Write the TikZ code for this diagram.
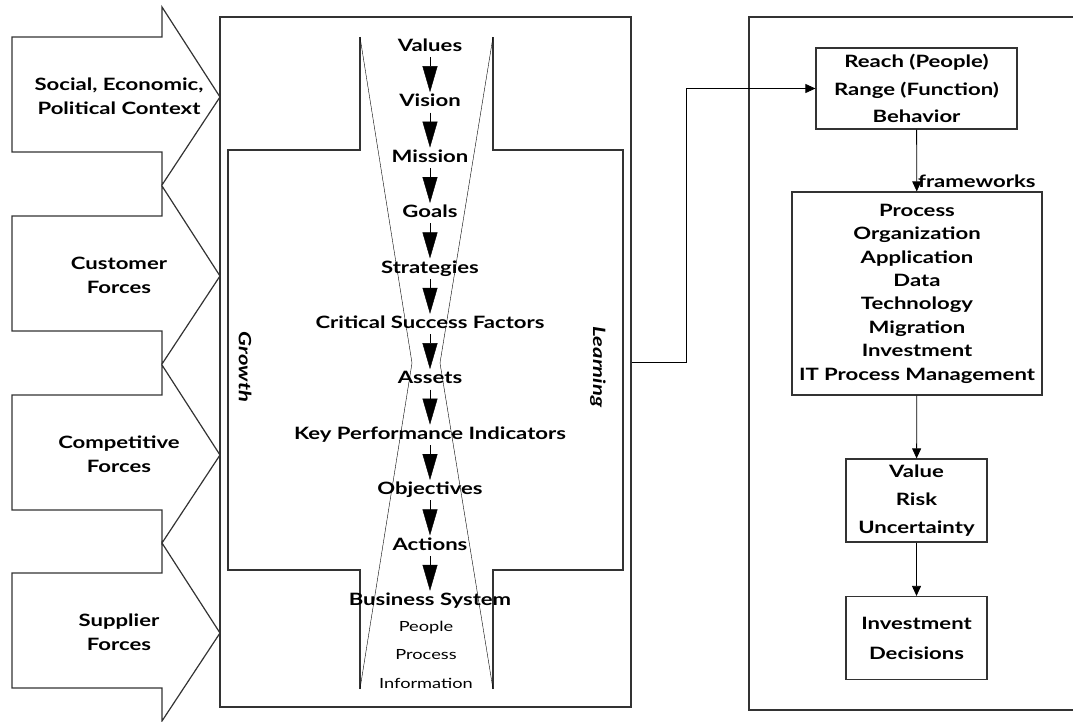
\documentclass[tikz,border=0pt]{standalone}
\usepackage{fontspec}
\setmainfont[FakeStretch=1.3]{Lato}
\usetikzlibrary{arrows.meta}

\begin{document}
\begin{tikzpicture}[x=1pt,y=-1pt,
    frame/.style={line width=1.2pt,draw=black!80},
    force/.style={font=\fontsize{17}{24}\selectfont\bfseries,align=center},
    stage/.style={font=\fontsize{17}{18}\selectfont\bfseries,text height=12pt,text depth=3pt,inner sep=2.5pt},
    part/.style={font=\fontsize{14}{18}\selectfont,inner sep=1pt},
    bigarrow/.style={-{Triangle[length=26pt,width=15pt]},thin},
    smallarrow/.style={-{Triangle[length=10pt,width=9pt]},line width=0.8pt},
    itembox/.style={draw,line width=1.2pt,draw=black!80,align=center,inner sep=0pt,font=\bfseries}]
\useasboundingbox (0,0) rectangle (1073,721);

% forces pushing into the strategy box
\foreach \t/\txt [count=\i] in {97/{Social, Economic,\\Political Context},276/{Customer\\Forces},455/{Competitive\\Forces},633/{Supplier\\Forces}}{
  \draw [frame] (12,\t-60) -- (162,\t-60) -- (162,\t-90) -- (220,\t) -- (162,\t+88) -- (162,\t+55) -- (12,\t+55) -- cycle;
  \node (f\i) [force] at (119,\t-1) {\txt};
}

\node (strategy) [draw,frame,minimum width=411pt,minimum height=690pt,inner sep=0pt] at (425.5,362) {};
\draw [frame] (360,37) -- (360,150) -- (228,150) -- (228,570) -- (360,570) -- (360,689);
\draw [frame] (493,37) -- (493,150) -- (623,150) -- (623,570) -- (493,570) -- (493,689);
\draw [thin] (360,37) -- (412,363) -- (360,689);
\draw [thin] (493,37) -- (440,363) -- (493,689);

\foreach \lbl [count=\i] in {Values,Vision,Mission,Goals,Strategies,Critical Success Factors,Assets,Key Performance Indicators,Objectives,Actions,Business System}
  \node (c\i) [stage] at (430,{47+55.4*(\i-1)}) {\lbl};
\foreach \i [evaluate=\i as \j using int(\i+1)] in {1,...,10}
  \draw [bigarrow] (c\i) -- (c\j);
\node (people) [part] at (426,628) {People};
\node (process) [part] at (426,655) {Process};
\node (info) [part] at (426,683) {Information};

\node (growth) [font=\fontsize{17}{18}\selectfont\bfseries\itshape,rotate=-90] at (245,367) {Growth};
\node (learning) [font=\fontsize{17}{18}\selectfont\bfseries\itshape,rotate=-90] at (598,367) {Learning};

% IT side
\draw [frame] (1073,17) -- (749,17) -- (749,710) -- (1073,710);
\node (reach) [itembox,minimum width=201pt,minimum height=81pt,font=\fontsize{17}{27.5}\selectfont\bfseries] at (916.5,88.5) {Reach (People)\\Range (Function)\\Behavior};
\node (arch) [itembox,minimum width=250pt,minimum height=203pt,font=\fontsize{17}{23.4}\selectfont\bfseries] at (917,293.5) {Process\\Organization\\Application\\Data\\Technology\\Migration\\Investment\\IT Process Management};
\node (value) [itembox,minimum width=141pt,minimum height=83pt,font=\fontsize{17}{28}\selectfont\bfseries] at (916.5,500.5) {Value\\Risk\\Uncertainty};
\node (decide) [itembox,minimum width=141pt,minimum height=83pt,font=\fontsize{17}{30}\selectfont\bfseries] at (916.5,638) {Investment\\Decisions};

\draw [smallarrow] (strategy.east) -- ++(55,0) |- (reach.west);
\draw [smallarrow] (reach) -- node [pos=0.83,right,inner sep=1pt,font=\fontsize{17}{18}\selectfont\bfseries] {frameworks} (arch);
\draw [smallarrow] (arch) -- (value);
\draw [smallarrow] (value) -- (decide);
\end{tikzpicture}
\end{document}
